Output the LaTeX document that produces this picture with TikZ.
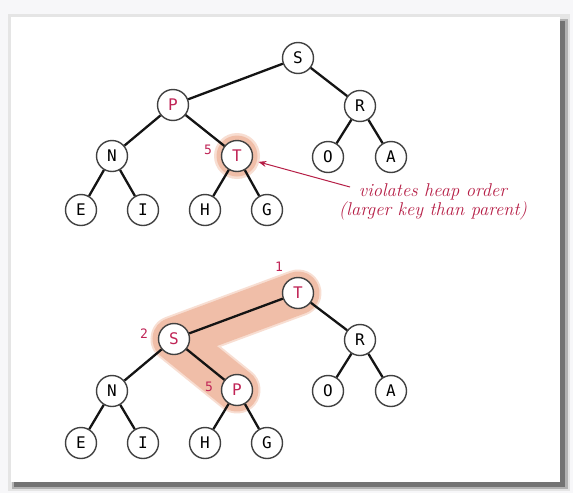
\documentclass[tikz,border=0pt]{standalone}
\usepackage{fontspec}
\newfontfamily\keyfont{DejaVu Sans Mono}
\usetikzlibrary{arrows.meta}
\definecolor{heapred}{RGB}{192,36,86}
\definecolor{noteRed}{RGB}{182,30,70}
\definecolor{hilite}{RGB}{240,190,168}
\definecolor{hiliteSoft}{RGB}{248,222,210}
\definecolor{pagebg}{RGB}{247,247,249}
\begin{document}
\begin{tikzpicture}[x=1pt,y=-1pt,
  key/.style={circle, draw=black!75, line width=1.4pt, fill=white,
    minimum size=31pt, inner sep=0pt,
    font=\keyfont\fontsize{16}{16}\selectfont},
  hot/.style={key, text=heapred},
  link/.style={line width=2.3pt, draw=black!92},
  idx/.style={text=heapred, inner sep=0pt,
    font=\keyfont\fontsize{13}{13}\selectfont},
  note/.style={text=noteRed, align=center, inner sep=0pt,
    font=\itshape\fontsize{18.5}{19}\selectfont},
  pointer/.style={draw=noteRed, line width=1pt, -{Stealth[length=8pt,width=6pt]}},
  band/.style={line cap=round, line join=round}]

% page and card with drop shadow
\fill[pagebg] (0,0) rectangle (573,493);
\fill[black!10] (8,14) rectangle (570,491);
\fill[black!30] (12,19) rectangle (568,489);
\fill[black!55] (14,21) rectangle (565,487);
\fill[white] (11,17) rectangle (560,482);

% ---------- heap before: T violates heap order ----------
\fill[hiliteSoft] (237,156) circle (23);
\fill[hilite] (237,156) circle (20.5);

\node[key] (S1) at (298,58)  {S};
\node[hot] (P1) at (173,105) {P};
\node[key] (R1) at (360,106) {R};
\node[key] (N1) at (112,156) {N};
\node[hot] (T1) at (237,156) {T};
\node[key] (O1) at (328,157) {O};
\node[key] (A1) at (391,157) {A};
\node[key] (E1) at (81,210)  {E};
\node[key] (I1) at (143,210) {I};
\node[key] (H1) at (205,210) {H};
\node[key] (G1) at (267,210) {G};
\node[circle, minimum size=44pt, inner sep=0pt] (T1ring) at (T1) {};

\draw[link] (S1) -- (P1);
\draw[link] (S1) -- (R1);
\draw[link] (P1) -- (N1);
\draw[link] (P1) -- (T1);
\draw[link] (R1) -- (O1);
\draw[link] (R1) -- (A1);
\draw[link] (N1) -- (E1);
\draw[link] (N1) -- (I1);
\draw[link] (T1) -- (H1);
\draw[link] (T1) -- (G1);

\node[idx] (k5a) at (208,150) {5};

\node[note] (msg) at (433,202) {violates heap order\\(larger key than parent)};
\coordinate (msgtail) at (350,187);
\draw[pointer] (msgtail) -- (T1ring);

% ---------- heap after swimming T up ----------
\coordinate (T2c) at (298,293);
\coordinate (S2c) at (174,339);
\coordinate (P2c) at (237,390);
\draw[band, hiliteSoft, line width=47pt] (T2c) -- (S2c) -- (P2c);
\draw[band, hilite, line width=43pt] (T2c) -- (S2c) -- (P2c);

\node[hot] (T2) at (T2c) {T};
\node[hot] (S2) at (S2c) {S};
\node[key] (R2) at (360,340) {R};
\node[key] (N2) at (112,391) {N};
\node[hot] (P2) at (P2c) {P};
\node[key] (O2) at (328,391) {O};
\node[key] (A2) at (391,391) {A};
\node[key] (E2) at (81,443)  {E};
\node[key] (I2) at (143,443) {I};
\node[key] (H2) at (205,443) {H};
\node[key] (G2) at (267,443) {G};

\draw[link] (T2) -- (S2);
\draw[link] (T2) -- (R2);
\draw[link] (S2) -- (N2);
\draw[link] (S2) -- (P2);
\draw[link] (R2) -- (O2);
\draw[link] (R2) -- (A2);
\draw[link] (N2) -- (E2);
\draw[link] (N2) -- (I2);
\draw[link] (P2) -- (H2);
\draw[link] (P2) -- (G2);

\node[idx] (k1) at (279,267) {1};
\node[idx] (k2) at (144,334) {2};
\node[idx] (k5b) at (209,387) {5};
\end{tikzpicture}
\end{document}
